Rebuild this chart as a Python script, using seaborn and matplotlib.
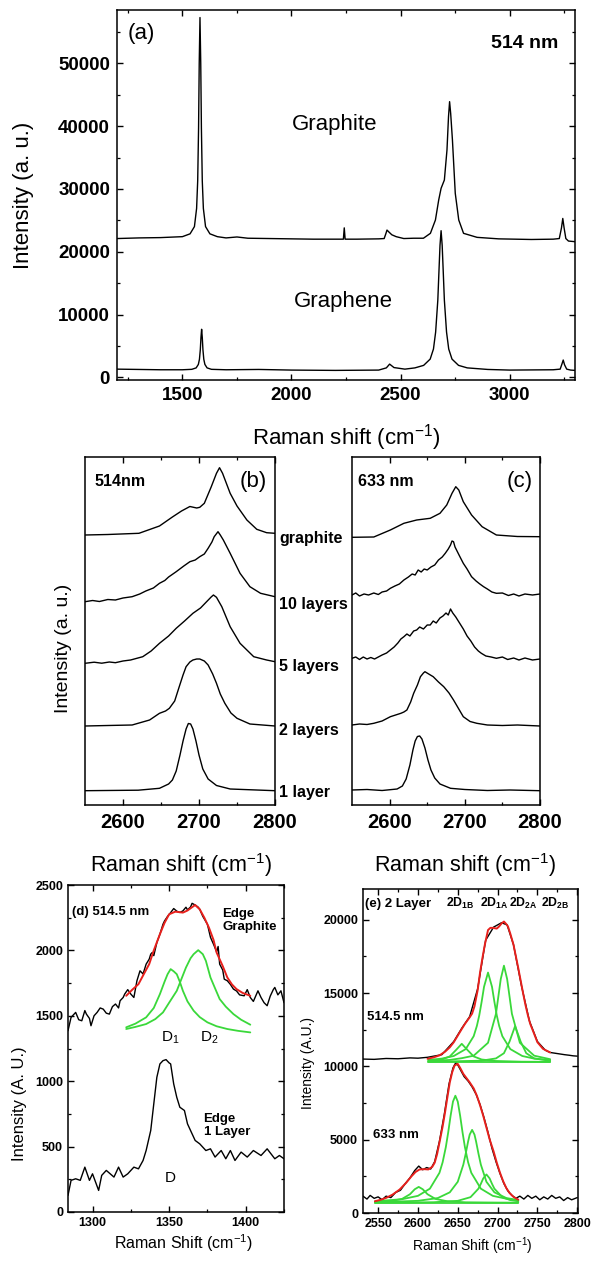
import matplotlib
matplotlib.use("Agg")
import matplotlib.pyplot as plt
import pandas as pd
import seaborn as sns

# ---------------- data ----------------
# Panel (a): 514 nm spectra (x = Raman shift, y = intensity)
a_graphite = [(1200, 22100), (1300, 22200), (1400, 22250), (1500, 22400), (1535, 22850), (1555, 24000),
              (1565, 26900), (1570, 31300), (1574, 39700), (1577, 50000), (1580.5, 57300), (1584, 50000),
              (1587, 39700), (1591, 31300), (1596, 26900), (1606, 24000), (1626, 22850), (1660, 22400),
              (1700, 22200), (1750, 22350), (1800, 22150), (1900, 22100), (2000, 22050), (2100, 22000),
              (2200, 22000), (2238, 22000), (2242, 23800), (2246, 22000), (2300, 22000), (2400, 22050),
              (2425, 22100), (2433, 22900), (2438, 23450), (2445, 23200), (2460, 22700), (2480, 22400),
              (2515, 22100), (2560, 22150), (2605, 22150), (2637, 22930), (2660, 25050), (2675, 28230),
              (2686, 30100), (2701, 31420), (2713, 36200), (2720, 41500), (2725, 43900), (2730, 42000),
              (2738, 37800), (2751, 29300), (2767, 25050), (2789, 22930), (2851, 22290), (2950, 22050),
              (3100, 21950), (3200, 22000), (3228, 22100), (3238, 23800), (3244, 25300), (3250, 23800),
              (3258, 22100), (3270, 21700), (3300, 21600)]
a_graphene = [(1200, 1300), (1300, 1250), (1400, 1200), (1500, 1200), (1543, 1270), (1563, 1500),
              (1573, 2050), (1578, 2870), (1582, 4400), (1585, 6350), (1588, 7650), (1591, 6350),
              (1594, 4400), (1598, 2870), (1603, 2050), (1613, 1500), (1633, 1270), (1700, 1200),
              (1850, 1250), (2000, 1150), (2200, 1100), (2400, 1150), (2435, 1500), (2450, 2100),
              (2470, 1550), (2520, 1300), (2566, 1500), (2606, 1900), (2636, 2900), (2651, 4500),
              (2661, 7200), (2671, 12300), (2676, 16700), (2681, 21000), (2686, 23350), (2691, 21000),
              (2696, 16700), (2701, 12300), (2711, 7200), (2721, 4500), (2736, 2900), (2766, 1900),
              (2806, 1500), (2900, 1250), (3000, 1150), (3200, 1200), (3232, 1300), (3240, 2100),
              (3246, 2750), (3252, 2000), (3262, 1300), (3280, 1150), (3300, 1100)]
a_xticks = [1500, 2000, 2500, 3000]
a_xminor = [1250, 1750, 2250, 2750, 3250]
a_yticks = [0, 10000, 20000, 30000, 40000, 50000]
a_yminor = [5000, 15000, 25000, 35000, 45000, 55000]

# Panel (b): 514 nm 2D band, stacked (arbitrary units incl. offsets)
b_graphite = [(2550, 270), (2580, 270.5), (2621, 271.7), (2648, 279), (2665, 288), (2677, 294),
              (2688, 298.5), (2697, 297), (2701, 297.7), (2707, 301.7), (2716, 318), (2723, 331.7),
              (2727, 337.3), (2731, 331.7), (2741, 311.7), (2750, 299), (2763, 285), (2776, 275.7),
              (2789, 272.3), (2800, 271.7)]
b_10 = [(2550, 203.3), (2560, 204.5), (2569, 203.5), (2580, 205.5), (2590, 205), (2600, 207), (2612, 208.3),
        (2622, 211), (2630, 214), (2640, 217), (2648, 221.7), (2655, 224.5), (2660, 228), (2670, 233.3),
        (2680, 239), (2688, 243.3), (2695, 245), (2701, 248.3), (2707, 251), (2712, 256.7), (2717, 263),
        (2720, 268.3), (2725, 273.3), (2728, 270), (2732, 265), (2741, 251.7), (2754, 231.7),
        (2767, 218.3), (2781, 211.7), (2800, 208.3)]
b_5 = [(2550, 141.7), (2562, 142.8), (2572, 141.8), (2582, 143), (2590, 142.3), (2600, 144), (2610, 145),
       (2626, 148.3), (2637, 154), (2648, 161.7), (2660, 169), (2670, 176.7), (2681, 184), (2692, 191.7),
       (2702, 197), (2710, 203.3), (2716, 208), (2719, 210), (2723, 207.7), (2730, 198.3), (2741, 178.3),
       (2754, 161.7), (2772, 148.3), (2789, 145), (2800, 143.3)]
b_2 = [(2550, 79), (2580, 79.5), (2612, 80), (2635, 85), (2648, 91.7), (2656, 94), (2661, 96.7), (2668, 104),
       (2674, 118.3), (2679, 130), (2683, 138.3), (2688, 143), (2692, 145), (2697, 146), (2701, 146),
       (2707, 144), (2712, 140), (2718, 131), (2723, 121.7), (2728, 111), (2734, 101.7), (2742, 92),
       (2750, 86.7), (2767, 81), (2800, 79)]
b_1 = [(2550, 14.3), (2620, 14.8), (2648, 16.7), (2660, 21), (2665, 25), (2670, 34), (2675, 50),
       (2679, 64), (2683, 76), (2686, 81.5), (2689, 81), (2692, 76), (2696, 64), (2700, 50), (2705, 36),
       (2712, 26), (2723, 19.5), (2741, 16), (2800, 14.3)]

# Panel (c): 633 nm 2D band, stacked
c_graphite = [(2550, 267.7), (2579, 268), (2601, 275), (2619, 281.7), (2636, 285), (2654, 286.7),
              (2667, 291.7), (2676, 300), (2683, 311.7), (2688, 318.3), (2692, 315), (2698, 303.3),
              (2709, 290), (2723, 278.3), (2742, 270), (2770, 268.5), (2800, 268.3)]
c_10 = [(2550, 210), (2555, 212), (2560, 209), (2566, 211), (2572, 210), (2579, 212), (2585, 210.5),
        (2590, 213), (2596, 214), (2601, 216.7), (2607, 219), (2613, 221), (2619, 225), (2625, 228),
        (2630, 231), (2634, 230), (2638, 235), (2642, 233), (2646, 236), (2650, 235), (2655, 238),
        (2660, 240), (2665, 245), (2670, 248), (2674, 251.7), (2678, 256), (2681, 260), (2683, 264),
        (2685, 263.3), (2687, 258), (2689, 255), (2693, 249), (2698, 241.7), (2703, 236), (2709, 228.3),
        (2715, 224), (2720, 221), (2725, 218.3), (2730, 216), (2736, 213), (2742, 211.7), (2750, 212),
        (2758, 209.5), (2765, 211), (2772, 209), (2780, 211), (2790, 210), (2800, 211)]
c_5 = [(2550, 146.7), (2555, 148), (2560, 145.5), (2565, 148), (2570, 146), (2575, 147.5), (2580, 146),
       (2585, 148), (2590, 150), (2596, 152), (2601, 155), (2606, 158), (2611, 162), (2615, 166),
       (2619, 168.3), (2623, 171), (2627, 169), (2632, 174), (2636, 175), (2640, 178), (2645, 176),
       (2650, 180), (2654, 180), (2658, 184), (2662, 182), (2667, 187), (2671, 189), (2675, 192),
       (2678, 190), (2681, 196), (2684, 192), (2688, 188), (2693, 182), (2698, 176), (2703, 169),
       (2708, 164), (2713, 158), (2718, 154), (2722, 151.7), (2728, 149), (2735, 148), (2742, 146.7),
       (2750, 148), (2757, 145.5), (2765, 147), (2772, 145), (2780, 147), (2790, 145), (2800, 146)]
c_2 = [(2550, 80), (2560, 81), (2570, 80.5), (2579, 81.7), (2590, 84), (2601, 88.3), (2608, 90),
       (2615, 91.7), (2619, 93), (2623, 95), (2628, 103), (2632, 111.7), (2637, 120), (2641, 128.3),
       (2645, 132), (2647, 133.3), (2652, 131), (2658, 128.3), (2665, 123), (2672, 118.3), (2679, 112),
       (2685, 105), (2692, 96), (2698, 88.3), (2707, 83.5), (2716, 81.7), (2730, 80), (2750, 79.5),
       (2770, 80), (2800, 79)]
c_1 = [(2550, 15), (2570, 15.5), (2590, 14.5), (2610, 16), (2617, 19), (2622, 26), (2627, 40),
       (2631, 55), (2634, 64), (2637, 68.5), (2640, 69), (2643, 66), (2647, 57), (2651, 45), (2655, 35),
       (2660, 27), (2667, 21), (2681, 16.7), (2700, 15.5), (2730, 14.5), (2760, 15), (2800, 14.3)]
bc_xticks = [2600, 2700, 2800]
bc_xminor = [2650, 2750]
layer_labels = ["graphite", "10 layers", "5 layers", "2 layers", "1 layer"]

# Panel (d): D band, 514.5 nm
d_graphite = [(1284, 1386), (1286, 1488), (1289, 1526), (1291, 1470), (1293, 1462), (1295, 1540),
              (1296, 1513), (1298, 1480), (1299, 1424), (1301, 1500), (1303, 1526), (1305, 1560),
              (1307, 1551), (1309, 1520), (1311, 1513), (1313, 1570), (1315, 1590), (1317, 1560),
              (1318, 1615), (1320, 1640), (1321, 1666), (1323, 1700), (1325, 1666), (1327, 1640),
              (1329, 1768), (1331, 1844), (1333, 1820), (1335, 1895), (1337, 1933), (1338, 1971),
              (1339, 1984), (1340, 1960), (1342, 2060), (1344, 2124), (1346, 2200), (1347, 2225),
              (1349, 2260), (1351, 2289), (1353, 2320), (1355, 2300), (1357, 2290), (1359, 2302),
              (1361, 2330), (1362, 2310), (1364, 2332), (1365, 2360), (1367, 2347), (1369, 2330),
              (1370, 2314), (1372, 2260), (1375, 2200), (1377, 2100), (1379, 2047), (1381, 1990),
              (1382, 2030), (1383, 1895), (1385, 1850), (1386, 1780), (1388, 1768), (1390, 1740),
              (1392, 1704), (1394, 1690), (1396, 1660), (1399, 1653), (1401, 1700), (1403, 1640),
              (1405, 1610), (1408, 1691), (1410, 1640), (1412, 1600), (1414, 1577), (1416, 1650),
              (1418, 1700), (1419, 1717), (1421, 1660), (1423, 1691), (1425, 1600)]
d_fit = [(1322, 1653), (1326, 1700), (1330, 1742), (1334, 1830), (1337, 1895), (1340, 2000), (1344, 2124),
         (1347, 2210), (1350, 2276), (1354, 2296), (1357, 2292), (1359, 2289), (1362, 2305), (1364, 2322),
         (1367, 2347), (1370, 2314), (1373, 2250), (1376, 2174), (1379, 2080), (1381, 1984), (1385, 1880),
         (1388, 1793), (1391, 1740), (1394, 1704), (1398, 1675), (1403, 1653)]
d_D1 = [(1322, 1412), (1328, 1440), (1335, 1488), (1340, 1560), (1344, 1666), (1347, 1760), (1349, 1818),
        (1351, 1857), (1353, 1840), (1355, 1818), (1357, 1760), (1359, 1691), (1362, 1610), (1366, 1539),
        (1370, 1490), (1375, 1450), (1381, 1420), (1388, 1399), (1395, 1385), (1403, 1373)]
d_D2 = [(1322, 1399), (1328, 1415), (1335, 1437), (1341, 1475), (1346, 1526), (1350, 1600), (1355, 1691),
        (1358, 1780), (1361, 1869), (1364, 1940), (1366, 1971), (1369, 2002), (1372, 1971), (1374, 1920),
        (1377, 1793), (1380, 1710), (1383, 1628), (1387, 1570), (1392, 1513), (1397, 1470), (1403, 1432)]
d_1layer = [(1284, 127), (1286, 242), (1289, 254), (1292, 242), (1295, 343), (1298, 242), (1300, 292),
            (1304, 165), (1306, 280), (1309, 318), (1314, 267), (1317, 343), (1320, 267), (1323, 292),
            (1327, 343), (1330, 330), (1333, 394), (1335, 470), (1338, 623), (1340, 827), (1342, 1030),
            (1344, 1132), (1346, 1157), (1348, 1165), (1350, 1140), (1351, 1132), (1353, 979), (1355, 877),
            (1357, 801), (1360, 776), (1362, 674), (1364, 623), (1367, 547), (1370, 521), (1374, 470),
            (1377, 483), (1380, 420), (1384, 470), (1387, 407), (1390, 470), (1393, 394), (1397, 458),
            (1401, 420), (1405, 470), (1410, 432), (1414, 483), (1419, 407), (1422, 432), (1425, 407)]
d_xticks = [1300, 1350, 1400]
d_xminor = [1325, 1375, 1425]
d_yticks = [0, 500, 1000, 1500, 2000, 2500]
d_yminor = [250, 750, 1250, 1750, 2250]

# Panel (e): 2 layer 2D band, fits
e514_data = [(2531, 10500), (2545, 10480), (2560, 10540), (2575, 10520), (2590, 10580), (2600, 10560),
             (2612, 10620), (2630, 10800), (2645, 11700), (2655, 12600), (2665, 13400), (2675, 15300),
             (2685, 18600), (2695, 19500), (2705, 19800), (2712, 19650), (2720, 18300), (2730, 15500),
             (2740, 13100), (2750, 11700), (2760, 11100), (2766, 10950), (2772, 10900), (2778, 10850),
             (2784, 10800), (2790, 10760), (2795, 10720), (2800, 10700)]
e514_fit = [(2612, 10520), (2620, 10620), (2627, 10750), (2634, 11000), (2640, 11300), (2645, 11650),
            (2650, 12100), (2655, 12550), (2659, 12900), (2665, 13350), (2668, 13600), (2671, 14100),
            (2675, 15200), (2678, 16400), (2681, 17400), (2684, 18300), (2688, 19300), (2691, 19450),
            (2694, 19450), (2699, 19400), (2702, 19550), (2705, 19750), (2708, 19880), (2711, 19700),
            (2713, 19550), (2716, 19050), (2720, 18300), (2723, 17500), (2726, 16700), (2729, 15850),
            (2732, 15000), (2735, 14200), (2738, 13500), (2741, 12900), (2745, 12350), (2750, 11650),
            (2757, 11200), (2766, 10950)]
e514_1B = [(2613, 10370), (2630, 10470), (2640, 10680), (2648, 11130), (2655, 11540), (2662, 11130),
           (2670, 10680), (2680, 10470), (2697, 10370), (2730, 10320), (2766, 10310)]
e514_1A = [(2613, 10440), (2630, 10530), (2645, 10710), (2660, 11180), (2670, 12060), (2674, 12760),
           (2677, 13480), (2680, 14410), (2683, 15430), (2688, 16400), (2693, 15430), (2696, 14410),
           (2699, 13480), (2702, 12760), (2706, 12060), (2716, 11180), (2731, 10710), (2746, 10530),
           (2766, 10430)]
e514_2A = [(2613, 10370), (2640, 10440), (2655, 10560), (2670, 10730), (2688, 11610), (2698, 13590),
           (2704, 15960), (2708, 16870), (2712, 15960), (2718, 13590), (2728, 11610), (2746, 10730),
           (2766, 10490)]
e514_2B = [(2613, 10310), (2680, 10390), (2698, 10545), (2708, 10900), (2715, 11690), (2722, 12750),
           (2729, 11690), (2736, 10900), (2746, 10545), (2766, 10380)]
e514_base = [(2613, 10300), (2766, 10300)]
e633_data = [(2531, 1150), (2536, 950), (2540, 1200), (2545, 1000), (2550, 1100), (2555, 900), (2560, 1150),
             (2566, 1050), (2572, 1400), (2578, 1550), (2584, 2000), (2590, 2400), (2596, 2900), (2601, 3200),
             (2606, 2950), (2611, 3100), (2616, 3000), (2621, 3500), (2627, 4900), (2633, 6700), (2639, 8800),
             (2644, 9900), (2648, 10300), (2651, 10000), (2654, 9700), (2658, 9300), (2663, 9000),
             (2668, 8600), (2673, 8100), (2678, 7400), (2683, 6500), (2688, 5500), (2693, 4400), (2698, 3500),
             (2703, 2700), (2708, 2000), (2713, 1500), (2718, 1200), (2723, 1000), (2728, 1150), (2733, 950),
             (2738, 1200), (2743, 1000), (2748, 1150), (2753, 900), (2758, 1100), (2763, 950), (2768, 1200),
             (2773, 1000), (2778, 1100), (2783, 850), (2788, 1050), (2793, 900), (2800, 1050)]
e633_fit = [(2546, 800), (2553, 900), (2560, 1030), (2568, 1250), (2577, 1600), (2585, 2050), (2592, 2510),
            (2597, 2800), (2602, 2970), (2608, 2990), (2613, 2970), (2618, 3150), (2621, 3430), (2624, 4000),
            (2627, 4800), (2631, 5900), (2634, 6860), (2637, 7900), (2640, 8910), (2643, 9600), (2646, 10060),
            (2650, 10170), (2653, 9900), (2657, 9490), (2661, 9200), (2665, 8910), (2670, 8500), (2674, 8000),
            (2678, 7350), (2682, 6630), (2686, 5830), (2690, 5030), (2695, 4200), (2699, 3430), (2703, 2750),
            (2707, 2170), (2711, 1700), (2715, 1370), (2720, 1100), (2726, 910)]
e633_c1 = [(2546, 740), (2565, 800), (2580, 960), (2590, 1280), (2596, 1620), (2601, 1780), (2606, 1620),
           (2612, 1280), (2622, 960), (2637, 800), (2660, 730), (2700, 710), (2726, 705)]
e633_c2 = [(2546, 800), (2580, 940), (2600, 1170), (2615, 1660), (2627, 2740), (2631, 3460), (2635, 4490),
           (2638, 5500), (2641, 6630), (2644, 7600), (2647, 8000), (2650, 7600), (2653, 6630), (2656, 5500),
           (2659, 4490), (2663, 3460), (2667, 2740), (2679, 1660), (2694, 1170), (2714, 940), (2726, 870)]
e633_c3 = [(2546, 730), (2600, 830), (2625, 1020), (2640, 1410), (2650, 2130), (2657, 3300), (2660, 4050),
           (2663, 4880), (2665, 5350), (2668, 5670), (2671, 5350), (2673, 4880), (2676, 4050), (2679, 3300),
           (2686, 2130), (2696, 1410), (2711, 1020), (2726, 880)]
e633_c4 = [(2546, 700), (2620, 735), (2650, 830), (2666, 1080), (2676, 1660), (2679, 1990), (2682, 2360),
           (2686, 2630), (2690, 2360), (2693, 1990), (2696, 1660), (2706, 1080), (2716, 880), (2726, 800)]
e633_base = [(2546, 690), (2726, 690)]
e_xticks = [2550, 2600, 2650, 2700, 2750, 2800]
e_xminor = [2575, 2625, 2675, 2725, 2775]
e_yticks = [0, 5000, 10000, 15000, 20000]
e_yminor = [2500, 7500, 12500, 17500]
e_peak_labels = ["2D$_{\\mathbf{1B}}$", "2D$_{\\mathbf{1A}}$", "2D$_{\\mathbf{2A}}$", "2D$_{\\mathbf{2B}}$"]

# ---------------- style ----------------
sns.set_theme(style="ticks")
plt.rcParams["font.family"] = ["Liberation Sans", "DejaVu Sans"]
plt.rcParams.update({
    "mathtext.fontset": "custom", "mathtext.rm": "Liberation Sans",
    "mathtext.it": "Liberation Sans:italic", "mathtext.bf": "Liberation Sans:bold",
    "mathtext.sf": "Liberation Sans",
    "axes.edgecolor": "black", "axes.linewidth": 1.1, "text.color": "black",
    "axes.labelcolor": "black", "xtick.color": "black", "ytick.color": "black",
    "xtick.direction": "in", "ytick.direction": "in", "xtick.top": True, "ytick.right": True,
    "xtick.major.size": 4, "ytick.major.size": 4, "xtick.minor.size": 2.5, "ytick.minor.size": 2.5,
    "xtick.major.width": 1.0, "ytick.major.width": 1.0, "xtick.minor.width": 0.9, "ytick.minor.width": 0.9,
})

W, H = 597, 1263
fig = plt.figure(figsize=(W / 100, H / 100), dpi=100)
RED = "#e8201c"
GREEN = "#3ad83a"


def add_ax(l, t, r, b):
    return fig.add_axes([l / W, 1 - b / H, (r - l) / W, (b - t) / H])


def draw(ax, pts, color="black", lw=0.9):
    df = pd.DataFrame(pts, columns=["x", "y"])
    sns.lineplot(data=df, x="x", y="y", ax=ax, color=color, linewidth=lw, estimator=None, sort=False)
    ax.set_xlabel("")
    ax.set_ylabel("")


def ftext(x, y, s, **kw):
    fig.text(x / W, 1 - y / H, s, **kw)


def ticks(ax, xt, xm, yt, ym, size, pad):
    ax.set_xticks(xt, [str(t) for t in xt], fontsize=size, fontweight="bold")
    ax.set_xticks(xm, minor=True)
    if yt is not None:
        ax.set_yticks(yt, [str(t) for t in yt], fontsize=size, fontweight="bold")
        ax.set_yticks(ym, minor=True)
    else:
        ax.set_yticks([])
        ax.tick_params(axis="y", which="both", left=False, right=False)
    ax.tick_params(axis="both", which="major", pad=pad)


# ---------------- panel (a) ----------------
axA = add_ax(117, 10, 575, 380)
draw(axA, a_graphite, lw=1.0)
draw(axA, a_graphene, lw=1.0)
axA.set_xlim(1200, 3300)
axA.set_ylim(-430, 58500)
ticks(axA, a_xticks, a_xminor, a_yticks, a_yminor, 13.5, 5)
axA.text(1250, 54800, "(a)", fontsize=16, ha="left", va="center")
axA.text(3223, 53100, "514 nm", fontsize=14, fontweight="bold", ha="right", va="center")
axA.text(2197, 40200, "Graphite", fontsize=16, ha="center", va="center")
axA.text(2236, 12000, "Graphene", fontsize=16, ha="center", va="center")
ftext(24, 195, "Intensity (a. u.)", fontsize=16, rotation=90, ha="center", va="center")
ftext(346, 438, "Raman shift (cm$^{-1}$)", fontsize=16, ha="center", va="center")

# ---------------- panels (b) and (c) ----------------
axB = add_ax(85, 457, 275, 805)
for curve in (b_graphite, b_10, b_5, b_2, b_1):
    draw(axB, curve, lw=1.0)
axC = add_ax(352, 457, 540, 805)
for curve in (c_graphite, c_10, c_5, c_2, c_1):
    draw(axC, curve, lw=1.0)
for ax in (axB, axC):
    ax.set_xlim(2550, 2800)
    ax.set_ylim(0, 348)
    ticks(ax, bc_xticks, bc_xminor, None, None, 14.5, 6)
axB.text(2563, 323, "514nm", fontsize=11.5, fontweight="bold", ha="left", va="center")
axB.text(2789, 323, "(b)", fontsize=16, ha="right", va="center")
axC.text(2558, 323, "633 nm", fontsize=11.5, fontweight="bold", ha="left", va="center")
axC.text(2791, 323, "(c)", fontsize=16, ha="right", va="center")
for lab, yy in zip(layer_labels, [538, 605, 667, 730, 793]):
    ftext(279, yy, lab, fontsize=11.5, fontweight="bold", ha="left", va="center")
ftext(63, 648, "Intensity (a. u.)", fontsize=14, rotation=90, ha="center", va="center")
ftext(181, 865, "Raman shift (cm$^{-1}$)", fontsize=15.5, ha="center", va="center")
ftext(465, 865, "Raman shift (cm$^{-1}$)", fontsize=15.5, ha="center", va="center")

# ---------------- panel (d) ----------------
axD = add_ax(68, 885, 284, 1212)
draw(axD, d_graphite, lw=1.0)
draw(axD, d_1layer, lw=1.0)
draw(axD, d_D1, GREEN, 1.3)
draw(axD, d_D2, GREEN, 1.3)
draw(axD, d_fit, RED, 1.4)
axD.set_xlim(1284, 1425)
axD.set_ylim(0, 2500)
ticks(axD, d_xticks, d_xminor, d_yticks, d_yminor, 9, 3.5)
axD.text(1286.5, 2293, "(d) 514.5 nm", fontsize=9.5, fontweight="bold", ha="left", va="center")
axD.text(1384.8, 2232, "Edge\nGraphite", fontsize=9.5, fontweight="bold", ha="left", va="center",
         linespacing=1.1)
axD.text(1351, 1328, "D$_1$", fontsize=11, ha="center", va="center")
axD.text(1376.4, 1328, "D$_2$", fontsize=11, ha="center", va="center")
axD.text(1350.8, 258, "D", fontsize=11, ha="center", va="center")
axD.text(1372.5, 663, "Edge\n1 Layer", fontsize=9.5, fontweight="bold", ha="left", va="center",
         linespacing=1.1)
ftext(20, 1104, "Intensity (A. U.)", fontsize=12, rotation=90, ha="center", va="center")
ftext(183, 1243, "Raman Shift (cm$^{-1}$)", fontsize=11.5, ha="center", va="center")

# ---------------- panel (e) ----------------
axE = add_ax(363, 889, 578, 1213)
draw(axE, e514_data, lw=1.0)
draw(axE, e633_data, lw=1.0)
for curve in (e514_1B, e514_1A, e514_2A, e514_2B, e514_base,
              e633_c1, e633_c2, e633_c3, e633_c4, e633_base):
    draw(axE, curve, GREEN, 1.3)
draw(axE, e514_fit, RED, 1.4)
draw(axE, e633_fit, RED, 1.4)
axE.set_xlim(2531, 2801)
axE.set_ylim(0, 22100)
ticks(axE, e_xticks, e_xminor, e_yticks, e_yminor, 9, 3.5)
axE.text(2533, 21100, "(e) 2 Layer", fontsize=9.5, fontweight="bold", ha="left", va="center")
for lab, xx in zip(e_peak_labels, [2653, 2696, 2732, 2772]):
    axE.text(xx, 21100, lab, fontsize=8.8, fontweight="bold", ha="center", va="center")
axE.text(2536, 13390, "514.5 nm", fontsize=9.5, fontweight="bold", ha="left", va="center")
axE.text(2543, 5340, "633 nm", fontsize=9.5, fontweight="bold", ha="left", va="center")
ftext(308, 1063, "Intensity (A.U.)", fontsize=10, rotation=90, ha="center", va="center")
ftext(472, 1246, "Raman Shift (cm$^{-1}$)", fontsize=10, ha="center", va="center")

fig.savefig("out.png", dpi=100)
